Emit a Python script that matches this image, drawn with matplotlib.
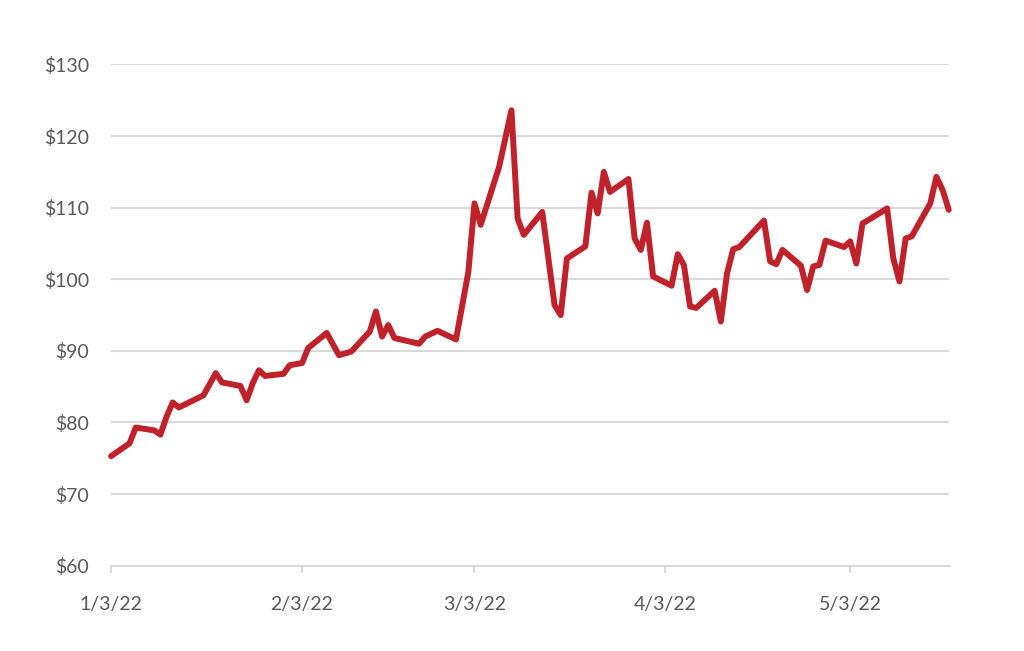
import pandas as pd
import matplotlib
matplotlib.use("Agg")
import matplotlib.pyplot as plt
import matplotlib.dates as mdates
from matplotlib.ticker import FuncFormatter

# values
dates = [
    "2022-01-03", "2022-01-06", "2022-01-07", "2022-01-10", "2022-01-11", "2022-01-12",
    "2022-01-13", "2022-01-14", "2022-01-18", "2022-01-20", "2022-01-21", "2022-01-24",
    "2022-01-25", "2022-01-26", "2022-01-27", "2022-01-28", "2022-01-31", "2022-02-01",
    "2022-02-03", "2022-02-04", "2022-02-07", "2022-02-09", "2022-02-11", "2022-02-14",
    "2022-02-15", "2022-02-16", "2022-02-17", "2022-02-18", "2022-02-22", "2022-02-23",
    "2022-02-25", "2022-02-28", "2022-03-02", "2022-03-03", "2022-03-04", "2022-03-07",
    "2022-03-09", "2022-03-10", "2022-03-11", "2022-03-14", "2022-03-16", "2022-03-17",
    "2022-03-18", "2022-03-21", "2022-03-22", "2022-03-23", "2022-03-24", "2022-03-25",
    "2022-03-28", "2022-03-29", "2022-03-30", "2022-03-31", "2022-04-01", "2022-04-04",
    "2022-04-05", "2022-04-06", "2022-04-07", "2022-04-08", "2022-04-11", "2022-04-12",
    "2022-04-13", "2022-04-14", "2022-04-15", "2022-04-19", "2022-04-20", "2022-04-21",
    "2022-04-22", "2022-04-25", "2022-04-26", "2022-04-27", "2022-04-28", "2022-04-29",
    "2022-05-02", "2022-05-03", "2022-05-04", "2022-05-05", "2022-05-06", "2022-05-09",
    "2022-05-10", "2022-05-11", "2022-05-12", "2022-05-13", "2022-05-16", "2022-05-17",
    "2022-05-18", "2022-05-19",
]
prices = [
    75.3, 77.1, 79.3, 78.9, 78.3, 80.8,
    82.8, 82.1, 83.8, 86.9, 85.6, 85.1,
    83.1, 85.5, 87.3, 86.5, 86.8, 88.0,
    88.3, 90.4, 92.5, 89.4, 89.9, 92.7,
    95.5, 92.0, 93.6, 91.8, 91.0, 92.0,
    92.8, 91.6, 101.0, 110.6, 107.6, 115.7,
    123.6, 108.5, 106.2, 109.4, 96.4, 95.0,
    102.9, 104.6, 112.1, 109.2, 115.0, 112.2,
    114.0, 105.7, 104.1, 107.9, 100.4, 99.1,
    103.5, 102.0, 96.2, 96.0, 98.4, 94.1,
    100.8, 104.2, 104.5, 108.2, 102.5, 102.1,
    104.1, 101.9, 98.5, 101.8, 102.0, 105.4,
    104.5, 105.3, 102.2, 107.8, 108.3, 109.9,
    102.9, 99.7, 105.7, 106.0, 110.6, 114.3,
    112.5, 109.7,
]
tick_dates = ["2022-01-03", "2022-02-03", "2022-03-03", "2022-04-03", "2022-05-03"]
y_ticks = [60, 70, 80, 90, 100, 110, 120, 130]

x = pd.to_datetime(dates)
xt = pd.to_datetime(tick_dates)

fig = plt.figure(figsize=(10.24, 6.51), dpi=100)
ax = fig.add_axes([0.1085, 0.131, 0.818, 0.770])

grid_col = "#D9D9D9"
text_col = "#595959"

for v in y_ticks[1:]:
    ax.axhline(v, color=grid_col, lw=1.5, zorder=1)

ax.plot(x, prices, color="#C0222B", lw=4.3, solid_joinstyle="round",
        solid_capstyle="round", zorder=3, clip_on=False)

ax.set_ylim(60, 130)
ax.set_xlim(x[0], x[-1])
ax.set_yticks(y_ticks)
ax.set_xticks(xt)
ax.xaxis.set_major_formatter(FuncFormatter(lambda v, p: "{d.month}/{d.day}/{y}".format(
    d=mdates.num2date(v), y=mdates.num2date(v).strftime("%y"))))
ax.yaxis.set_major_formatter(FuncFormatter(lambda v, p: "${:.0f}".format(v)))

for s in ["top", "right", "left"]:
    ax.spines[s].set_visible(False)
ax.spines["bottom"].set_color(grid_col)
ax.spines["bottom"].set_linewidth(1.5)

ax.tick_params(axis="y", length=0, pad=16, labelsize=14, labelcolor=text_col)
ax.tick_params(axis="x", length=5, width=1.5, color=grid_col, pad=17,
               labelsize=14, labelcolor=text_col)
for lab in ax.get_xticklabels() + ax.get_yticklabels():
    lab.set_family("Lato")

fig.savefig("out.png", dpi=100)
